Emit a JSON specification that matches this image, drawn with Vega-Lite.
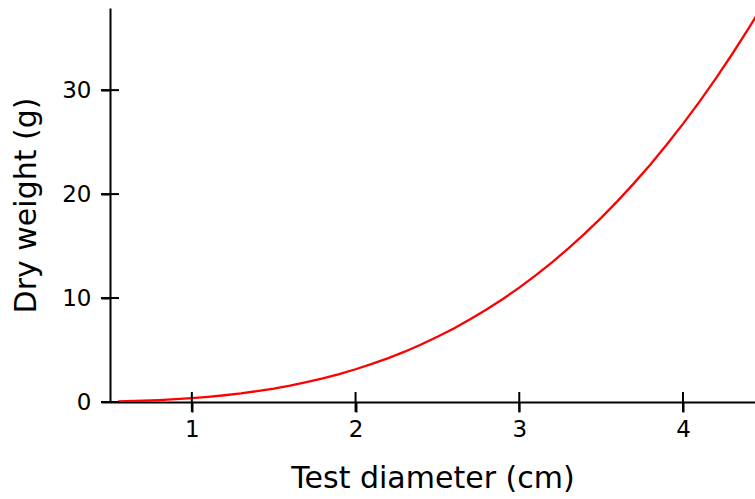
{
  "$schema": "https://vega.github.io/schema/vega-lite/v6.json",
  "width": 645,
  "height": 394,
  "autosize": {"type": "none"},
  "padding": {"left": 110, "top": 8, "right": 0, "bottom": 97},
  "background": "white",
  "config": {
    "view": {"stroke": null},
    "font": "DejaVu Sans",
    "axis": {
      "grid": false,
      "domainColor": "black", "domainWidth": 2, "tickColor": "black", "tickWidth": 2,
      "labelFontSize": 23, "labelColor": "black", "labelFont": "DejaVu Sans",
      "titleFontSize": 30, "titleFontWeight": "normal", "titleColor": "black", "titleFont": "DejaVu Sans"
    }
  },
  "datasets": {
    "curve": [
      {"d": 0.55, "w": 0.06}, {"d": 0.6, "w": 0.08}, {"d": 0.7, "w": 0.12}, {"d": 0.8, "w": 0.19},
      {"d": 0.9, "w": 0.27}, {"d": 1.0, "w": 0.37}, {"d": 1.1, "w": 0.5}, {"d": 1.2, "w": 0.65},
      {"d": 1.3, "w": 0.83}, {"d": 1.4, "w": 1.05}, {"d": 1.5, "w": 1.29}, {"d": 1.6, "w": 1.58},
      {"d": 1.7, "w": 1.91}, {"d": 1.8, "w": 2.27}, {"d": 1.9, "w": 2.69}, {"d": 2.0, "w": 3.15},
      {"d": 2.1, "w": 3.66}, {"d": 2.2, "w": 4.22}, {"d": 2.3, "w": 4.84}, {"d": 2.4, "w": 5.53},
      {"d": 2.5, "w": 6.27}, {"d": 2.6, "w": 7.07}, {"d": 2.7, "w": 7.95}, {"d": 2.8, "w": 8.89},
      {"d": 2.9, "w": 9.91}, {"d": 3.0, "w": 11.0}, {"d": 3.1, "w": 12.18}, {"d": 3.2, "w": 13.43},
      {"d": 3.3, "w": 14.77}, {"d": 3.4, "w": 16.2}, {"d": 3.5, "w": 17.71}, {"d": 3.6, "w": 19.32},
      {"d": 3.7, "w": 21.03}, {"d": 3.8, "w": 22.83}, {"d": 3.9, "w": 24.74}, {"d": 4.0, "w": 26.75},
      {"d": 4.1, "w": 28.87}, {"d": 4.2, "w": 31.1}, {"d": 4.3, "w": 33.45}, {"d": 4.4, "w": 35.91},
      {"d": 4.45, "w": 37.19}
    ],
    "xticks": [{"v": 1}, {"v": 2}, {"v": 3}, {"v": 4}],
    "yticks": [{"v": 0}, {"v": 10}, {"v": 20}, {"v": 30}]
  },
  "layer": [
    {
      "data": {"name": "curve"},
      "mark": {"type": "line", "color": "#ff0000", "strokeWidth": 2.3, "clip": true},
      "encoding": {
        "x": {
          "field": "d", "type": "quantitative",
          "scale": {"domain": [0.5, 4.44], "nice": false, "zero": false},
          "axis": {"title": "Test diameter (cm)", "values": [1, 2, 3, 4], "format": "d", "tickSize": 10, "labelPadding": 6, "titlePadding": 22, "labelFontSize": 23, "titleFontSize": 30}
        },
        "y": {
          "field": "w", "type": "quantitative",
          "scale": {"domain": [0, 37.9], "nice": false},
          "axis": {"title": "Dry weight (g)", "values": [0, 10, 20, 30], "format": "d", "tickSize": 9, "labelPadding": 10, "titlePadding": 20, "labelFontSize": 23, "titleFontSize": 30}
        }
      }
    },
    {
      "data": {"name": "xticks"},
      "mark": {"type": "tick", "orient": "vertical", "size": 20, "thickness": 2, "color": "black", "opacity": 1},
      "encoding": {
        "x": {
          "field": "v", "type": "quantitative",
          "axis": {"title": "Test diameter (cm)", "values": [1, 2, 3, 4], "format": "d", "tickSize": 10, "labelPadding": 6, "titlePadding": 22, "labelFontSize": 23, "titleFontSize": 30}
        },
        "y": {
          "datum": 0, "type": "quantitative",
          "axis": {"title": "Dry weight (g)", "values": [0, 10, 20, 30], "format": "d", "tickSize": 9, "labelPadding": 10, "titlePadding": 20, "labelFontSize": 23, "titleFontSize": 30}
        }
      }
    },
    {
      "data": {"name": "yticks"},
      "mark": {"type": "tick", "orient": "horizontal", "size": 18, "thickness": 2, "color": "black", "opacity": 1},
      "encoding": {
        "y": {
          "field": "v", "type": "quantitative",
          "axis": {"title": "Dry weight (g)", "values": [0, 10, 20, 30], "format": "d", "tickSize": 9, "labelPadding": 10, "titlePadding": 20, "labelFontSize": 23, "titleFontSize": 30}
        },
        "x": {
          "datum": 0.5, "type": "quantitative",
          "axis": {"title": "Test diameter (cm)", "values": [1, 2, 3, 4], "format": "d", "tickSize": 10, "labelPadding": 6, "titlePadding": 22, "labelFontSize": 23, "titleFontSize": 30}
        }
      }
    }
  ]
}
